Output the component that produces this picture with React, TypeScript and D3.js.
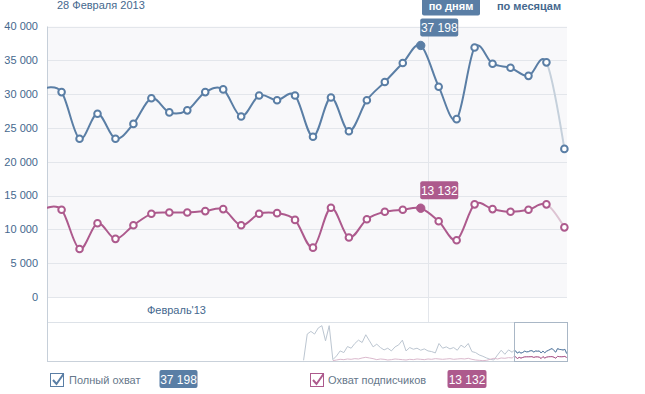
import * as d3 from 'd3';
import { useEffect, useRef } from 'react';

const width = 645;
const height = 394;
const plot = { left: 47, right: 567, top: 26.5, bottom: 297 };
const navBox = { top: 322, bottom: 361 };

const blue = '#5a7ea5';
const pink = '#ad5a8d';
const textBlue = '#45688e';

// one point per day, the first one sits just left of the visible area
const dayStamps = [
    '2013-02-07 14:30', '2013-02-08 14:30', '2013-02-09 14:30', '2013-02-10 14:30',
    '2013-02-11 14:30', '2013-02-12 14:30', '2013-02-13 14:30', '2013-02-14 14:30',
    '2013-02-15 14:30', '2013-02-16 14:30', '2013-02-17 14:30', '2013-02-18 14:30',
    '2013-02-19 14:30', '2013-02-20 14:30', '2013-02-21 14:30', '2013-02-22 14:30',
    '2013-02-23 14:30', '2013-02-24 14:30', '2013-02-25 14:30', '2013-02-26 14:30',
    '2013-02-27 14:30', '2013-02-28 14:30', '2013-03-01 14:30', '2013-03-02 14:30',
    '2013-03-03 14:30', '2013-03-04 14:30', '2013-03-05 14:30', '2013-03-06 14:30',
    '2013-03-07 14:30', '2013-03-08 14:30',
];

const fullReach = [
    30800, 30300, 23400, 27100, 23400, 25600, 29400, 27300, 27600, 30300,
    30700, 26700, 29800, 29100, 29800, 23700, 29500, 24500, 29100, 31800,
    34600, 37198, 31100, 26300, 36900, 34500, 33900, 32700, 34700, 21900,
];

const subscriberReach = [
    13000, 12900, 7100, 10900, 8600, 10600, 12300, 12500, 12500, 12700,
    13000, 10600, 12300, 12400, 11400, 7300, 13200, 8800, 11500, 12600,
    12900, 13132, 11200, 8400, 13700, 13000, 12600, 12900, 13700, 10300,
];

const hoverIndex = 21;
const hoverTitle = '28 Февраля 2013';

const yTicks = [0, 5000, 10000, 15000, 20000, 25000, 30000, 35000, 40000];
const monthGrid = ['2013-03-01 00:00'];
const monthLabels = [{ at: '2013-02-15 00:00', text: "Февраль'13" }];

const viewStart = '2013-02-07 19:00';
const viewEnd = '2013-03-08 18:00';
const navigatorStart = '2012-05-28 14:00';

// navigator history, one sample every two days before the visible range
const historyStart = '2012-10-15 19:00';
const historyReach = [
    2000, 80000, 88000, 80000, 98000, 105000, 60000, 105000, 4000, 15000,
    30000, 25000, 43000, 38000, 52000, 62000, 55000, 78000, 60000, 42000,
    50000, 40000, 33000, 38000, 30000, 42000, 48000, 62000, 30000, 40000,
    35000, 38000, 32000, 36000, 30000, 28000, 24000, 52000, 38000, 42000,
    36000, 40000, 32000, 47000, 40000, 52000, 28000, 25000, 18000, 14000,
    9000, 5000, 3000, 18000, 32000, 20000, 33000, 26000,
];
const historySubscribers = [
    null, null, null, null, null, null, null, null, 1000, 3000,
    5000, 4000, 6000, 5000, 7000, 6000, 9000, 11000, 9000, 7000,
    4000, 6000, 5000, 3000, 4000, 6000, 5000, 4000, 3000, 5000,
    4000, 6000, 5000, 4000, 6000, 5000, 7000, 6000, 5000, 6000,
    7000, 5000, 6000, 7000, 6000, 8000, 5000, 3000, 2000, 1000,
    2000, 5000, 8000, 6000, 9000, 8000, 10000, 9000,
];

const legendItems = [
    { name: 'Полный охват', color: blue, value: fullReach[hoverIndex], box: 50.5, label: 69, badge: 159.5, badgeW: 38 },
    { name: 'Охват подписчиков', color: pink, value: subscriberReach[hoverIndex], box: 310.5, label: 328, badge: 447.5, badgeW: 39 },
];

const parseTime = d3.timeParse('%Y-%m-%d %H:%M');
const fmt = (v: number) => d3.format(',')(v).replace(/,/g, ' ');

export default function App() {
    const containerRef = useRef<HTMLDivElement>(null);

    useEffect(() => {
        const el = containerRef.current;
        if (!el || el.hasChildNodes()) return;

        const svg = d3
            .select(el)
            .append('svg')
            .attr('width', width)
            .attr('height', height)
            .style('position', 'absolute')
            .style('left', 0)
            .style('top', 0)
            .style('font-family', '"Liberation Sans", Arial, sans-serif');

        const dates = dayStamps.map((s) => parseTime(s) as Date);

        const x = d3
            .scaleTime()
            .domain([parseTime(viewStart) as Date, parseTime(viewEnd) as Date])
            .range([plot.left, plot.right]);
        const y = d3.scaleLinear().domain([0, 40000]).range([plot.bottom, plot.top]);

        const defs = svg.append('defs');
        const lastX = x(dates[dates.length - 2]);
        const clip = (id: string, x0: number, x1: number) =>
            defs
                .append('clipPath')
                .attr('id', id)
                .append('rect')
                .attr('x', x0)
                .attr('y', 0)
                .attr('width', x1 - x0)
                .attr('height', plot.bottom + 5);
        clip('solid-part', plot.left, lastX);
        clip('faded-part', lastX, plot.right);

        // plot background and grid
        svg.append('rect')
            .attr('x', plot.left)
            .attr('y', plot.top)
            .attr('width', plot.right - plot.left)
            .attr('height', plot.bottom - plot.top)
            .attr('fill', '#f8f8fa');

        svg.append('g')
            .selectAll('line')
            .data(yTicks)
            .join('line')
            .attr('x1', plot.left)
            .attr('x2', plot.right)
            .attr('y1', (d) => Math.round(y(d)) + 0.5)
            .attr('y2', (d) => Math.round(y(d)) + 0.5)
            .attr('stroke', '#e3e6eb');

        svg.append('g')
            .selectAll('text')
            .data(yTicks)
            .join('text')
            .attr('x', 38)
            .attr('y', (d) => y(d))
            .attr('dy', '0.35em')
            .attr('text-anchor', 'end')
            .attr('font-size', 11)
            .attr('fill', textBlue)
            .text((d) => fmt(d));

        svg.append('g')
            .selectAll('line')
            .data(monthGrid.map((s) => parseTime(s) as Date))
            .join('line')
            .attr('x1', (d) => Math.round(x(d)) + 0.5)
            .attr('x2', (d) => Math.round(x(d)) + 0.5)
            .attr('y1', plot.top)
            .attr('y2', navBox.top)
            .attr('stroke', '#e3e6eb');

        svg.append('g')
            .selectAll('text')
            .data(monthLabels)
            .join('text')
            .attr('x', (d) => x(parseTime(d.at) as Date))
            .attr('y', 314)
            .attr('text-anchor', 'middle')
            .attr('font-size', 11)
            .attr('fill', textBlue)
            .text((d) => d.text);

        // navigator frame
        svg.append('line')
            .attr('x1', plot.left)
            .attr('x2', plot.right)
            .attr('y1', navBox.top + 0.5)
            .attr('y2', navBox.top + 0.5)
            .attr('stroke', '#dde2e8');
        svg.append('line')
            .attr('x1', plot.left)
            .attr('x2', plot.right)
            .attr('y1', navBox.bottom + 0.5)
            .attr('y2', navBox.bottom + 0.5)
            .attr('stroke', '#c9d1da');
        svg.append('line')
            .attr('x1', plot.left + 0.5)
            .attr('x2', plot.left + 0.5)
            .attr('y1', plot.top)
            .attr('y2', navBox.bottom + 1)
            .attr('stroke', '#c6cfd9');

        // main series
        const series = [
            { values: fullReach, color: blue, faded: '#c5d0db' },
            { values: subscriberReach, color: pink, faded: '#ddc4d3' },
        ];
        const line = d3
            .line<number>()
            .x((_, i) => x(dates[i]))
            .y((d) => y(d))
            .curve(d3.curveCardinal.tension(0));

        series.forEach((s) => {
            svg.append('path')
                .attr('d', line(s.values))
                .attr('fill', 'none')
                .attr('stroke', s.faded)
                .attr('stroke-width', 2)
                .attr('clip-path', 'url(#faded-part)');
            svg.append('path')
                .attr('d', line(s.values))
                .attr('fill', 'none')
                .attr('stroke', s.color)
                .attr('stroke-width', 2)
                .attr('clip-path', 'url(#solid-part)');

            const visible = s.values.map((v, i) => ({ v, i })).filter((d) => d.i > 0);
            svg.append('g')
                .selectAll('circle')
                .data(visible)
                .join('circle')
                .attr('cx', (d) => x(dates[d.i]))
                .attr('cy', (d) => y(d.v))
                .attr('r', (d) => (d.i === hoverIndex ? 4.2 : 3.3))
                .attr('fill', (d) => (d.i === hoverIndex ? s.color : '#fff'))
                .attr('stroke', s.color)
                .attr('stroke-width', (d) => (d.i === hoverIndex ? 1 : 2));

            // value flag above the hovered point
            const hx = x(dates[hoverIndex]);
            const hy = y(s.values[hoverIndex]);
            svg.append('rect')
                .attr('x', hx - 0.5)
                .attr('y', hy - 27)
                .attr('width', 38)
                .attr('height', 18)
                .attr('rx', 2)
                .attr('fill', s.color);
            svg.append('text')
                .attr('x', hx + 18.5)
                .attr('y', hy - 13.5)
                .attr('text-anchor', 'middle')
                .attr('font-size', 12)
                .attr('fill', '#fff')
                .text(fmt(s.values[hoverIndex]));
        });

        // navigator series
        const navX = d3
            .scaleTime()
            .domain([parseTime(navigatorStart) as Date, parseTime(viewEnd) as Date])
            .range([plot.left, plot.right]);
        const navY = d3.scaleLinear().domain([0, 110000]).range([navBox.bottom, navBox.top + 2]);
        const hStart = parseTime(historyStart) as Date;
        const navDates = historyReach
            .map((_, i) => d3.timeDay.offset(hStart, 2 * i))
            .concat(dates);
        const navSeries = [
            { values: [...historyReach, ...fullReach], light: '#bcc6d1', color: blue },
            { values: [...historySubscribers, ...subscriberReach], light: '#dbb9cd', color: pink },
        ];
        const navLine = d3
            .line<number | null>()
            .defined((d) => d != null)
            .x((_, i) => navX(navDates[i]))
            .y((d) => navY(d as number));

        const winX0 = navX(parseTime(viewStart) as Date);
        const winX1 = navX(parseTime(viewEnd) as Date);
        defs.append('clipPath')
            .attr('id', 'nav-window')
            .append('rect')
            .attr('x', winX0)
            .attr('y', navBox.top)
            .attr('width', winX1 - winX0)
            .attr('height', navBox.bottom - navBox.top);

        navSeries.forEach((s) => {
            svg.append('path')
                .attr('d', navLine(s.values))
                .attr('fill', 'none')
                .attr('stroke', s.light)
                .attr('stroke-width', 1);
        });
        navSeries.forEach((s) => {
            svg.append('path')
                .attr('d', navLine(s.values))
                .attr('fill', 'none')
                .attr('stroke', s.color)
                .attr('stroke-width', 1)
                .attr('clip-path', 'url(#nav-window)');
        });
        svg.append('rect')
            .attr('x', Math.round(winX0) + 0.5)
            .attr('y', navBox.top + 0.5)
            .attr('width', Math.round(winX1 - winX0))
            .attr('height', navBox.bottom - navBox.top)
            .attr('fill', 'none')
            .attr('stroke', '#a9b7c6');

        // header: hovered date and period switch
        svg.append('text')
            .attr('x', 57)
            .attr('y', 9)
            .attr('font-size', 11)
            .attr('fill', textBlue)
            .text(hoverTitle);
        svg.append('rect')
            .attr('x', 422)
            .attr('y', -3)
            .attr('width', 58)
            .attr('height', 18.5)
            .attr('rx', 2)
            .attr('fill', blue);
        svg.append('text')
            .attr('x', 451)
            .attr('y', 10)
            .attr('text-anchor', 'middle')
            .attr('font-size', 11)
            .attr('font-weight', 'bold')
            .attr('fill', '#fff')
            .text('по дням');
        svg.append('text')
            .attr('x', 529)
            .attr('y', 10)
            .attr('text-anchor', 'middle')
            .attr('font-size', 11)
            .attr('font-weight', 'bold')
            .attr('fill', textBlue)
            .text('по месяцам');

        // legend
        const legend = svg.append('g');
        legendItems.forEach((item) => {
            legend.append('rect')
                .attr('x', item.box)
                .attr('y', 373.5)
                .attr('width', 13)
                .attr('height', 13)
                .attr('fill', '#fff')
                .attr('stroke', item.color);
            legend.append('path')
                .attr('d', `M${item.box + 2.5},${380} L${item.box + 6},${384} L${item.box + 13},${374}`)
                .attr('fill', 'none')
                .attr('stroke', item.color)
                .attr('stroke-width', 2);
            legend.append('text')
                .attr('x', item.label)
                .attr('y', 384)
                .attr('font-size', 11)
                .attr('fill', '#66778a')
                .text(item.name);
            legend.append('rect')
                .attr('x', item.badge)
                .attr('y', 370)
                .attr('width', item.badgeW)
                .attr('height', 18)
                .attr('rx', 2)
                .attr('fill', item.color);
            legend.append('text')
                .attr('x', item.badge + item.badgeW / 2)
                .attr('y', 383.5)
                .attr('text-anchor', 'middle')
                .attr('font-size', 12)
                .attr('fill', '#fff')
                .text(fmt(item.value));
        });
    }, []);

    return <div ref={containerRef} style={{ width, height }} />;
}
